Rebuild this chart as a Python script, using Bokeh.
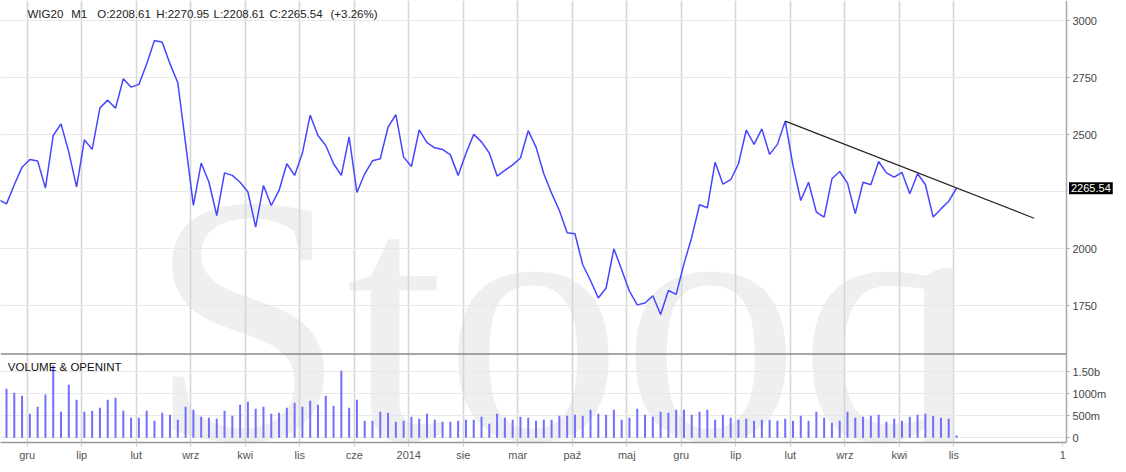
import numpy as np
from bokeh.plotting import figure
from bokeh.models import Range1d, FixedTicker, Label, ColumnDataSource, LinearAxis, Grid
from bokeh.core.properties import value
from bokeh.embed import file_html
from bokeh.resources import INLINE

# ---------------- data (monthly WIG20) ----------------
close = [
    2215,
    2197, 2281, 2358, 2392, 2385, 2266, 2497, 2548, 2424, 2271,
    2478, 2436, 2618, 2652, 2616, 2746, 2709, 2721, 2811, 2914,
    2906, 2811, 2728, 2461, 2190, 2376, 2292, 2146, 2333, 2322,
    2292, 2249, 2095, 2278, 2190, 2256, 2373, 2322, 2420, 2586,
    2497, 2453, 2373, 2322, 2491, 2247, 2329, 2386, 2395, 2534,
    2588, 2402, 2361, 2522, 2466, 2443, 2436, 2412, 2322, 2418,
    2502, 2469, 2420, 2319, 2344, 2368, 2398, 2518, 2446, 2329,
    2244, 2168, 2070, 2066, 1930, 1861, 1784, 1828, 2000, 1908,
    1814, 1754, 1762, 1794, 1712, 1817, 1800, 1934, 2051, 2193,
    2180, 2380, 2284, 2303, 2373, 2521, 2458, 2526, 2414, 2458,
    2560, 2366, 2212, 2292, 2161, 2139, 2307, 2339, 2288, 2154,
    2292, 2281, 2383, 2333, 2314, 2335, 2241, 2329, 2282, 2139,
    2175, 2208.61, 2265.54,
]
volume_m = [
    1000,
    1114, 1023, 955, 545, 705, 985, 1644, 591, 1205, 864,
    591, 614, 682, 864, 909, 614, 455, 455, 614, 386,
    568, 523, 409, 705, 636, 477, 455, 432, 614, 500,
    750, 818, 659, 705, 545, 568, 682, 795, 705, 841,
    750, 955, 727, 1523, 682, 864, 386, 386, 591, 568,
    364, 386, 477, 432, 545, 409, 364, 364, 386, 409,
    409, 477, 318, 545, 455, 409, 477, 455, 386, 409,
    409, 500, 500, 523, 500, 636, 545, 523, 636, 409,
    455, 659, 523, 477, 591, 568, 636, 636, 523, 591,
    636, 409, 523, 455, 409, 432, 386, 409, 409, 386,
    432, 386, 500, 386, 591, 455, 341, 386, 591, 455,
    477, 500, 523, 364, 432, 386, 477, 523, 545, 500,
    455, 432, 53,
]
tick_labels = ["gru", "lip", "lut", "wrz", "kwi", "lis", "cze", "2014", "sie",
               "mar", "paź", "maj", "gru", "lip", "lut", "wrz", "kwi", "lis"]
end_tick_label = "1"
price_ticks = [1750, 2000, 2250, 2500, 2750, 3000]
volume_ticks = [0, 500, 1000, 1500]
volume_tick_labels = ["0", "500m", "1000m", "1.50b"]
header_parts = ["WIG20", "M1", "O:2208.61", "H:2270.95", "L:2208.61", "C:2265.54", "(+3.26%)"]
last_label = "2265.54"
trend_start_index = 101          # position in close[] of the Jan-2018 peak
trend_end = (129.3, 2134)        # extrapolated end of the trend line

# ---------------- layout constants (pixels) ----------------
MONTHS_PER_TICK = 7
SAMPLE_SHIFT = -3.658            # month position of close[0] relative to first tick
G0, DX = 26.7, 7.787             # px of first tick, px per month
CANVAS_W = 1126
AXIS_X = 1066                    # x of the right value axis
SEP = 353.5                      # separator between price and volume panels
FRAME_B = 442                    # bottom of plot area
PX_PER_250 = 57.0


def mx(px):
    return (px - G0) / DX


def price_at(py):
    return 2500 + (134.3 - py) * 250 / PX_PER_250


def vol_at(py):
    return (437.3 - py) * 500 / 22


def vol_py(v):
    return 437.3 - v * 22 / 500


xm = np.arange(len(close)) + SAMPLE_SHIFT
src = ColumnDataSource(dict(x=xm, close=close, vol=volume_m, zero=[0] * len(close)))

grid_ticks = [MONTHS_PER_TICK * j for j in range(len(tick_labels))]
axis_ticks = grid_ticks + [grid_ticks[-1] + 2 * MONTHS_PER_TICK]
x_overrides = {t: lab for t, lab in zip(axis_ticks, tick_labels + [end_tick_label])}

# right axis carries price ticks and volume ticks (volume ticks expressed on the price scale);
# the price tick hidden behind the last-price marker gets no label
vol_ticks_on_price = [price_at(vol_py(v)) for v in volume_ticks]
shown_price_ticks = [t for t in price_ticks if abs(t - close[-1]) * PX_PER_250 / 250 > 13]
right_grid = price_ticks + vol_ticks_on_price
right_ticks = shown_price_ticks + vol_ticks_on_price
right_overrides = {t: str(t) for t in shown_price_ticks}
right_overrides.update({t: lab for t, lab in zip(vol_ticks_on_price, volume_tick_labels)})

FONT = "Liberation Sans"
WM_COLOR = "#efefef"
GRIDX = "#d6d6d6"
GRIDY = "#e8e8e8"
X_LEFT, X_AXIS = mx(0), mx(AXIS_X)

p = figure(frame_width=CANVAS_W, frame_height=FRAME_B,
           x_range=Range1d(mx(0), mx(CANVAS_W)),
           y_range=Range1d(price_at(FRAME_B), price_at(0)),
           output_backend="svg", toolbar_location=None,
           x_axis_location="below", y_axis_location=None,
           min_border_left=0, min_border_top=0, min_border_bottom=0, min_border_right=0)
p.extra_y_ranges = {"vol": Range1d(vol_at(FRAME_B), vol_at(0))}
p.outline_line_color = None
p.background_fill_color = "white"
p.border_fill_color = "white"

# watermark
p.text(x=[mx(148)], y=[price_at(319)], text=["Stooq"], text_font=value("Liberation Serif"),
       text_font_size="355px", text_color=WM_COLOR, text_baseline="alphabetic", level="image")

# vertical grid
p.xgrid.ticker = FixedTicker(ticks=grid_ticks)
p.xgrid.grid_line_color = GRIDX
p.xgrid.grid_line_width = 1.6

# horizontal grid, limited to the left of the value axis
for g in list(p.ygrid):
    g.visible = False
if "cross_bounds" in Grid.properties():
    hg = Grid(dimension=1, ticker=FixedTicker(ticks=right_grid), cross_bounds=(X_LEFT, X_AXIS),
              grid_line_color=GRIDY, grid_line_width=1.2)
    p.add_layout(hg, "center")
else:
    p.segment(x0=[X_LEFT] * len(right_grid), x1=[X_AXIS] * len(right_grid),
              y0=right_grid, y1=right_grid, line_color=GRIDY, line_width=1.2, level="underlay")

# x axis
xa = p.xaxis[0]
xa.ticker = FixedTicker(ticks=axis_ticks)
xa.major_label_overrides = x_overrides
xa.bounds = (X_LEFT, X_AXIS)
xa.axis_line_color = "#999999"
xa.axis_line_width = 1.5
xa.major_tick_out = 4
xa.major_tick_in = 0
xa.minor_tick_out = 0
xa.minor_tick_in = 0
xa.major_tick_line_color = "#cccccc"
xa.major_label_standoff = 2
xa.major_label_text_font = FONT
xa.major_label_text_font_size = "11px"
xa.major_label_text_color = "#555555"

# right value axis drawn at a fixed position inside the canvas
ya = LinearAxis(fixed_location=X_AXIS, ticker=FixedTicker(ticks=right_ticks))
ya.major_label_overrides = right_overrides
ya.axis_line_color = "#aaaaaa"
ya.axis_line_width = 1.5
ya.major_tick_out = 3
ya.major_tick_in = 0
ya.minor_tick_out = 0
ya.minor_tick_in = 0
ya.major_tick_line_color = "#aaaaaa"
ya.major_label_standoff = 3
ya.major_label_text_font = FONT
ya.major_label_text_font_size = "11px"
ya.major_label_text_color = "#444444"
p.add_layout(ya, "right")

# panel separator
p.line(x=[X_LEFT, X_AXIS], y=[price_at(SEP)] * 2, line_color="#8a8a8a", line_width=1.5)

# price line and trend line
p.line("x", "close", source=src, line_color="#4646ff", line_width=1.5)
p.line(x=[xm[trend_start_index], trend_end[0]], y=[close[trend_start_index], trend_end[1]],
       line_color="#222222", line_width=1.2)

# volume bars
p.segment(x0="x", y0="zero", x1="x", y1="vol", source=src, y_range_name="vol",
          line_color="#7070ff", line_width=2)

# header
hx = [27, 70.7, 96.7, 155.7, 213, 269, 330]
for txt, px in zip(header_parts, hx):
    p.add_layout(Label(x=mx(px), y=price_at(13.3), text=txt, text_font=FONT, text_font_size="11.5px",
                       text_color="#222222", text_baseline="middle", text_align="left"))

# last price marker next to the value axis
p.add_layout(Label(x=mx(1068.5), y=close[-1], text=last_label, text_font=FONT,
                   text_font_size="11px", text_color="white", background_fill_color="black",
                   background_fill_alpha=1.0, text_baseline="middle", text_align="left",
                   padding=2, level="overlay"))

# volume panel title
p.add_layout(Label(x=mx(7.3), y=price_at(366), text="VOLUME & OPENINT", text_font=FONT,
                   text_font_size="11.5px", text_color="#111111", text_baseline="middle",
                   text_align="left"))

open("out.html", "w").write(file_html(p, INLINE))
